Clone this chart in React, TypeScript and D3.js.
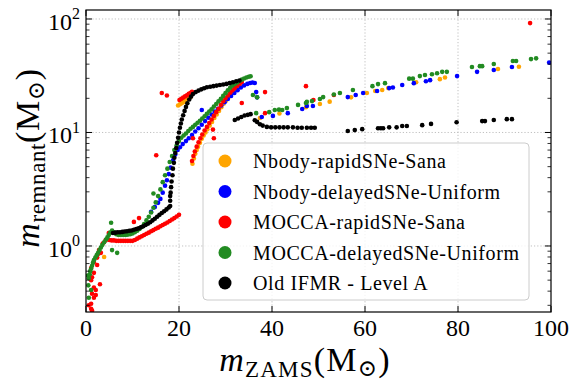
import React from 'react';
import * as d3 from 'd3';

type Pt = [number, number];

// Nbody-rapidSNe-Sana
const nbodyRapid: Pt[] = [
  [3.9, 0.8],
  [19.8, 17.3], [20.2, 17.7], [20.6, 18.1], [21.0, 18.6], [21.4, 19.1], [21.8, 19.6], [22.2, 20.1], [22.5, 20.5],
  [22.9, 5.3], [23.2, 5.9], [23.5, 6.5], [23.8, 7.0], [24.1, 7.5], [24.5, 8.1], [24.9, 8.8], [25.3, 9.4],
  [25.7, 10.0], [26.1, 10.7], [26.6, 11.5], [27.1, 12.4], [27.6, 13.4], [28.1, 14.4], [28.6, 15.5], [29.1, 16.7],
  [29.6, 17.9], [30.1, 19.0], [30.6, 20.2], [31.1, 21.3], [31.6, 22.4], [32.1, 23.5], [32.6, 24.6], [33.1, 25.8],
  [37.4, 13.4], [41.6, 14.7], [47.3, 16.7], [50.3, 17.8], [52.4, 18.7], [57.0, 20.4], [60.4, 22.3], [62.2, 23.2],
  [63.7, 23.7], [65.0, 24.6], [71.0, 27.7], [76.1, 29.5], [77.2, 30.5], [88.6, 36.3], [93.1, 38.0],
];

// Nbody-delayedSNe-Uniform
const nbodyDelayed: Pt[] = [
  [14.0, 2.0], [14.8, 2.2], [15.5, 2.4], [16.0, 2.6], [16.5, 2.95], [17.0, 3.4], [17.4, 3.8], [17.8, 4.3],
  [18.2, 4.9], [18.7, 5.7], [19.2, 6.4], [19.7, 7.0], [20.2, 7.4], [20.8, 7.9], [21.5, 8.4], [22.1, 8.9],
  [22.8, 9.5], [23.5, 10.2], [24.2, 10.9], [24.9, 11.7], [25.6, 12.6], [26.3, 13.5], [27.0, 14.4], [27.7, 15.3],
  [28.4, 16.2], [29.1, 17.3], [29.8, 18.5], [30.5, 19.7], [31.2, 21.0], [31.9, 22.3], [32.6, 23.6], [33.3, 24.9],
  [34.0, 26.0], [34.7, 26.8], [35.3, 27.3], [35.8, 27.6], [36.3, 27.3],
  [24.9, 15.8], [36.6, 22.7], [36.8, 20.4], [37.8, 13.7], [40.2, 14.0], [43.4, 14.8], [46.5, 16.1], [47.5, 17.1],
  [48.8, 17.1], [56.3, 20.5], [58.0, 21.4], [59.6, 22.3], [62.6, 23.2], [65.2, 24.6], [66.0, 24.9], [68.0, 26.2],
  [70.5, 27.2], [73.1, 28.3], [74.0, 28.9], [79.8, 31.4], [84.1, 34.2], [87.7, 35.5], [91.6, 37.7], [99.6, 41.3],
];

// MOCCA-rapidSNe-Sana
const moccaRapid: Pt[] = [
  [0.6, 0.3], [1.1, 0.28], [1.1, 0.31], [1.3, 0.27], [1.7, 0.35], [2.1, 0.37], [1.3, 0.38], [1.7, 0.43],
  [3.0, 0.46], [2.1, 0.41], [1.1, 0.5], [1.7, 0.58], [1.1, 0.64], [1.7, 0.72], [2.4, 0.79], [3.2, 0.87],
  [2.8, 0.92], [2.4, 0.68], [1.3, 0.53], [4.9, 1.3], [3.6, 1.05], [4.2, 1.12], [2.6, 0.85],
  [5.0, 1.13], [5.5, 1.12], [6.0, 1.12], [6.5, 1.11], [7.0, 1.11], [7.5, 1.11], [8.0, 1.11], [8.5, 1.11],
  [9.0, 1.11], [9.5, 1.11], [10.0, 1.11], [10.5, 1.13], [11.0, 1.16], [11.5, 1.19], [12.0, 1.22], [12.5, 1.25],
  [13.0, 1.28], [13.5, 1.31], [14.0, 1.35], [14.5, 1.38], [15.0, 1.42], [15.5, 1.45], [16.0, 1.49], [16.5, 1.53],
  [17.0, 1.57], [17.5, 1.61], [18.0, 1.66], [18.5, 1.71], [19.0, 1.76], [19.5, 1.82], [20.0, 1.88],
  [10.3, 1.63], [11.4, 1.76], [16.3, 22.3], [17.4, 21.2], [15.1, 6.3], [27.3, 10.6], [27.5, 8.9], [23.0, 8.9],
  [33.5, 18.2], [38.5, 22.7], [38.5, 14.8], [47.3, 25.6], [48.9, 19.3], [53.3, 21.4], [95.5, 92],
  [20.1, 19.3], [20.5, 19.8], [20.9, 20.3], [21.3, 20.8], [21.7, 21.3], [22.1, 21.9], [22.5, 22.4], [22.8, 22.8],
  [22.8, 5.6], [23.1, 6.2], [23.4, 6.8], [23.8, 7.5], [24.2, 8.2], [24.6, 8.9], [25.0, 9.6], [25.5, 10.4],
  [26.0, 11.2], [26.5, 12.1], [27.0, 13.0], [27.5, 14.0], [28.0, 15.1], [28.5, 16.2], [29.0, 17.5], [29.5, 18.8],
  [30.0, 20.0], [30.5, 21.2], [31.0, 22.4], [31.5, 23.5], [32.0, 24.6], [32.5, 25.7], [33.0, 26.8], [33.5, 27.8],
];

// MOCCA-delayedSNe-Uniform
const moccaDelayed: Pt[] = [
  [0.5, 0.45], [0.4, 0.55], [0.6, 0.52], [0.8, 0.56], [0.9, 0.6], [1.1, 0.63], [1.3, 0.67], [1.5, 0.71],
  [1.7, 0.75], [2.0, 0.79], [2.3, 0.83], [2.6, 0.87], [2.9, 0.92], [3.2, 0.97], [3.5, 1.02], [3.9, 1.08],
  [4.3, 1.14], [4.6, 1.19], [4.9, 1.25], [5.2, 1.31], [5.6, 1.37],
  [6.0, 1.32], [6.5, 1.27], [7.0, 1.25], [7.5, 1.25], [8.0, 1.25], [8.5, 1.25], [9.0, 1.26], [9.5, 1.27],
  [10.0, 1.29], [10.5, 1.32], [11.0, 1.36], [11.5, 1.41], [12.0, 1.47], [12.5, 1.56], [13.0, 1.68], [13.5, 1.81],
  [14.0, 1.97], [14.5, 2.17], [15.0, 2.42], [15.5, 2.75], [16.0, 3.15], [16.5, 3.65], [17.0, 4.2], [17.5, 4.8],
  [18.0, 5.5], [18.5, 6.2], [19.0, 7.0], [19.5, 7.7], [20.0, 8.4], [20.5, 9.0], [21.0, 9.4], [21.5, 9.8],
  [22.0, 10.3], [22.5, 10.8], [23.0, 11.2], [23.5, 11.7], [24.0, 12.2], [24.5, 12.7], [25.0, 13.3], [25.5, 13.9],
  [26.0, 14.6], [26.5, 15.3], [27.0, 16.0], [27.5, 16.9], [28.0, 17.8], [28.5, 18.8], [29.0, 19.8], [29.5, 21.0],
  [30.0, 22.2], [30.5, 23.5], [31.0, 24.8], [31.5, 25.9], [32.0, 26.8], [32.5, 27.6], [33.0, 28.4], [33.5, 29.2],
  [34.0, 29.9], [34.5, 30.5], [35.0, 31.0], [35.4, 31.3],
  [5.4, 1.6], [6.7, 0.87], [5.6, 0.92], [1.1, 0.41], [0.6, 0.35], [14.5, 2.9], [35.9, 21.4], [36.6, 14.8],
  [36.8, 20.4], [39.4, 15.1], [40.6, 15.8], [41.5, 15.9], [42.2, 15.8], [43.2, 16.4], [45.6, 17.5], [47.3, 18.2],
  [47.5, 18.6], [48.6, 18.9], [50.3, 19.7], [51.0, 20.5], [53.3, 21.6], [54.6, 22.3], [57.4, 23.7], [61.6, 25.6],
  [62.8, 26.7], [64.3, 27.2], [69.5, 29.8], [70.3, 29.8], [71.8, 31.4], [72.9, 32.1], [74.4, 32.6], [75.5, 33.3],
  [76.6, 34.2], [77.6, 34.2], [83.0, 37.7], [84.7, 38.4], [85.2, 38.4], [87.7, 40.1], [91.8, 42.6], [92.5, 42.6],
  [95.7, 44.3], [96.8, 45.0],
];

// Old IFMR - Level A
const oldIfmr: Pt[] = [
  [5.8, 1.3], [6.3, 1.31], [6.8, 1.32], [7.3, 1.32], [7.8, 1.33], [8.3, 1.34], [8.8, 1.35], [9.3, 1.36],
  [9.8, 1.37], [10.3, 1.39], [10.8, 1.41], [11.3, 1.43], [11.8, 1.46], [12.3, 1.49], [12.8, 1.53], [13.3, 1.57],
  [13.8, 1.62], [14.3, 1.68], [14.8, 1.74], [15.3, 1.81], [15.8, 1.88], [16.3, 1.95], [16.8, 2.02], [17.3, 2.1],
  [17.8, 2.18], [18.1, 2.25],
  [18.1, 2.5], [18.1, 2.75], [18.2, 2.95], [18.3, 3.3], [18.4, 3.7], [18.6, 4.2], [18.7, 4.8], [18.9, 5.4],
  [19.0, 6.0], [19.2, 6.6], [19.4, 7.3], [19.6, 8.1], [19.8, 9.0], [20.0, 10.0], [20.2, 11.0], [20.4, 12.0],
  [20.6, 13.0], [20.9, 14.2], [21.2, 15.5], [21.5, 16.8], [21.8, 18.1], [22.2, 19.5], [22.6, 20.7], [23.0, 21.8],
  [23.6, 22.7], [24.2, 23.4], [24.8, 24.0], [25.4, 24.5], [26.0, 25.0], [26.7, 25.3], [27.4, 25.6], [28.1, 25.9],
  [28.8, 26.2], [29.5, 26.5], [30.2, 26.8], [30.9, 27.2], [31.6, 27.7], [32.3, 28.3], [33.0, 28.7],
  [32.0, 12.9], [32.7, 13.3], [33.4, 13.7], [34.1, 14.1], [34.8, 14.3], [35.4, 14.5], [36.3, 12.8], [36.8, 12.4],
  [37.4, 11.8], [38.0, 11.5], [38.9, 11.2], [39.8, 11.1], [40.7, 11.1], [41.6, 11.1], [42.5, 11.1], [43.4, 11.1],
  [44.5, 11.1], [45.5, 11.0], [46.4, 11.0], [47.5, 11.0], [48.4, 11.0], [49.2, 11.0],
  [56.3, 10.3], [57.8, 10.5], [59.4, 10.7], [62.8, 10.9], [63.4, 10.9], [63.9, 10.9], [65.2, 11.1], [66.8, 11.1],
  [68.0, 11.4], [69.0, 11.4], [72.3, 11.6], [74.2, 11.9], [79.7, 12.3], [85.2, 12.6], [85.8, 12.6], [87.7, 12.9],
  [90.5, 13.1], [91.6, 13.1],
];

const seriesNames = [
  'Nbody-rapidSNe-Sana',
  'Nbody-delayedSNe-Uniform',
  'MOCCA-rapidSNe-Sana',
  'MOCCA-delayedSNe-Uniform',
  'Old IFMR - Level A',
];
const seriesColors = ['orange', 'blue', 'red', 'forestgreen', 'black'];
const seriesData = [nbodyRapid, nbodyDelayed, moccaRapid, moccaDelayed, oldIfmr];

const xTicks = [0, 20, 40, 60, 80, 100];
const yMajor = [1, 10, 100];
const yExponents = ['0', '1', '2'];

const FONT = '"Liberation Serif", "DejaVu Serif", serif';

export default function App() {
  const left = 86, right = 551, top = 10, bottom = 312;
  const x = d3.scaleLinear().domain([0, 100]).range([left, right]);
  const y = d3.scaleLog().domain([0.262, 120]).range([bottom, top]);

  const isMajor = (t: number) => Math.abs(Math.log10(t) - Math.round(Math.log10(t))) < 1e-9;
  const yMinor = y.ticks().filter(t => !isMajor(t));

  const grid = { stroke: '#b0b0b0', strokeWidth: 0.8, strokeDasharray: '1.2,2' };

  // axis label: italic m, roman subscript, then (M_sun)
  const label = (sub: string) => (
    <>
      <tspan fontStyle="italic">m</tspan>
      <tspan fontSize={23} dy={6}>{sub}</tspan>
      <tspan dy={-6}>(M</tspan>
      <tspan fontSize={23} dy={5}>⊙</tspan>
      <tspan dy={-5}>)</tspan>
    </>
  );

  return (
    <svg width={579} height={387}
      style={{ position: 'absolute', left: 0, top: 0, background: '#fff', fontFamily: FONT }}>
      <defs>
        <clipPath id="plot">
          <rect x={left} y={top} width={right - left} height={bottom - top} />
        </clipPath>
      </defs>

      {/* grid */}
      {xTicks.slice(1, -1).map(t => (
        <line key={'gx' + t} x1={x(t)} x2={x(t)} y1={top} y2={bottom} {...grid} />
      ))}
      {yMajor.map(t => (
        <line key={'gy' + t} x1={left} x2={right} y1={y(t)} y2={y(t)} {...grid} />
      ))}

      {/* points */}
      <g clipPath="url(#plot)">
        {seriesData.map((pts, i) => (
          <g key={i} fill={seriesColors[i]}>
            {pts.map((p, j) => (
              <circle key={j} cx={x(p[0])} cy={y(p[1])} r={2.3} />
            ))}
          </g>
        ))}
      </g>

      {/* legend */}
      <g>
        <rect x={203} y={143} width={326} height={157} rx={4} fill="#fff" fillOpacity={0.8}
          stroke="#cccccc" strokeWidth={1} />
        {seriesNames.map((n, i) => (
          <g key={n} transform={`translate(0,${161 + i * 30.5})`}>
            <circle cx={225} cy={0} r={6.5} fill={seriesColors[i]} />
            <text x={253} y={0} dy="0.35em" fontSize={20} letterSpacing={0.6} fill="#000">{n}</text>
          </g>
        ))}
      </g>

      {/* frame */}
      <rect x={left} y={top} width={right - left} height={bottom - top} fill="none" stroke="#000" strokeWidth={1.2} />

      {/* x ticks */}
      {xTicks.map(t => (
        <g key={'xt' + t}>
          <line x1={x(t)} x2={x(t)} y1={bottom} y2={bottom - 6} stroke="#000" />
          <line x1={x(t)} x2={x(t)} y1={top} y2={top + 6} stroke="#000" />
          <text x={x(t)} y={336} textAnchor="middle" fontSize={24}>{t}</text>
        </g>
      ))}

      {/* y ticks */}
      {yMajor.map((t, i) => (
        <g key={'ym' + t}>
          <line x1={left} x2={left + 6} y1={y(t)} y2={y(t)} stroke="#000" />
          <line x1={right} x2={right - 6} y1={y(t)} y2={y(t)} stroke="#000" />
          <text x={80} y={y(t) + 11} textAnchor="end" fontSize={24}>
            10<tspan dy={-10.5} fontSize={16}>{yExponents[i]}</tspan>
          </text>
        </g>
      ))}
      {yMinor.map(t => (
        <g key={'yn' + t}>
          <line x1={left} x2={left + 3.5} y1={y(t)} y2={y(t)} stroke="#000" strokeWidth={0.8} />
          <line x1={right} x2={right - 3.5} y1={y(t)} y2={y(t)} stroke="#000" strokeWidth={0.8} />
        </g>
      ))}

      {/* axis labels */}
      <text x={305} y={371} textAnchor="middle" fontSize={34} letterSpacing={1.2}>
        {label('ZAMS')}
      </text>
      <text transform="translate(39,158) rotate(-90)" textAnchor="middle" fontSize={34} letterSpacing={0.6}>
        {label('remnant')}
      </text>
    </svg>
  );
}
